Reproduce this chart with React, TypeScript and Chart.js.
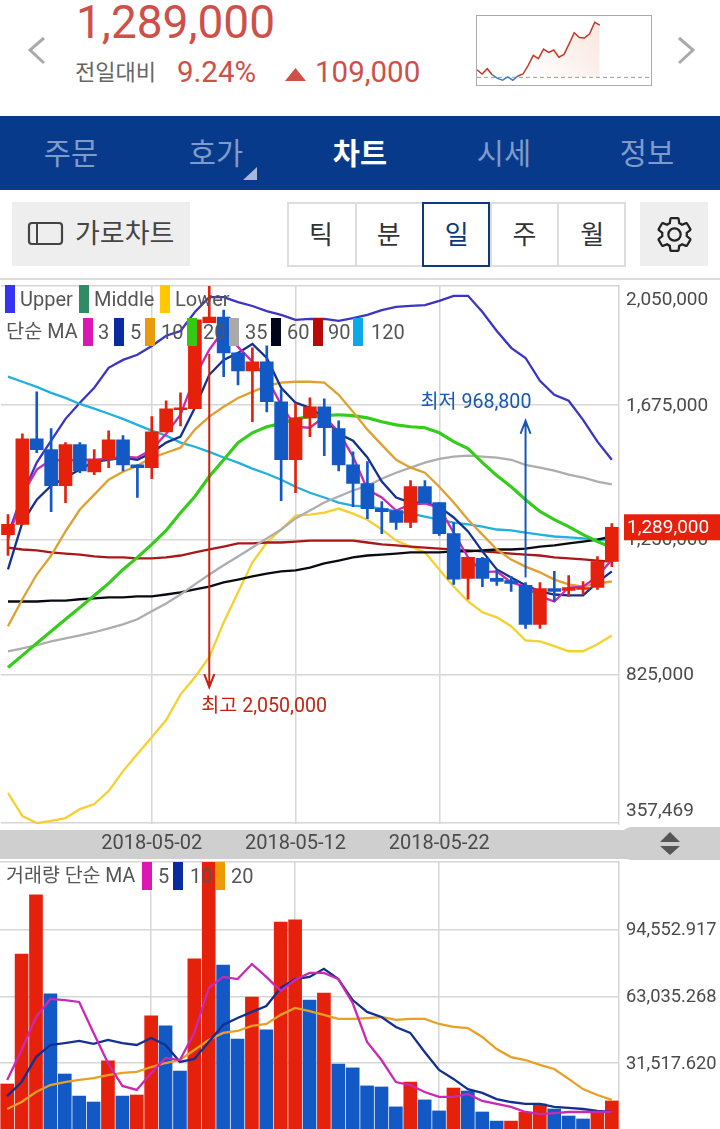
import { useEffect, useRef } from 'react';
import { Chart, registerables } from 'chart.js';

Chart.register(...registerables);

const RED = '#e5200b';
const BLUE = '#1359c6';
const GRID = '#d6d6d6';
const TEXT = '#4a4a4a';
const FONT = "Roboto, 'Noto Sans CJK KR', sans-serif";

const dates = [
  '2018-04-22', '2018-04-23', '2018-04-24', '2018-04-25', '2018-04-26', '2018-04-27', '2018-04-28', '2018-04-29',
  '2018-04-30', '2018-05-01', '2018-05-02', '2018-05-03', '2018-05-04', '2018-05-05', '2018-05-06', '2018-05-07',
  '2018-05-08', '2018-05-09', '2018-05-10', '2018-05-11', '2018-05-12', '2018-05-13', '2018-05-14', '2018-05-15',
  '2018-05-16', '2018-05-17', '2018-05-18', '2018-05-19', '2018-05-20', '2018-05-21', '2018-05-22', '2018-05-23',
  '2018-05-24', '2018-05-25', '2018-05-26', '2018-05-27', '2018-05-28', '2018-05-29', '2018-05-30', '2018-05-31',
  '2018-06-01', '2018-06-02', '2018-06-03',
];
const labelledDates = ['2018-05-02', '2018-05-12', '2018-05-22'];

// prices in thousand won
const opens = [1266, 1298, 1568, 1534, 1420, 1550, 1464, 1502, 1565, 1486, 1477, 1590, 1660, 1663, 1934, 1952, 1839, 1782, 1811, 1685, 1502, 1634, 1669, 1600, 1486, 1427, 1348, 1342, 1304, 1417, 1367, 1269, 1128, 1191, 1128, 1121, 1106, 983, 1096, 1090, 1093, 1099, 1181];
const closes = [1298, 1568, 1534, 1420, 1550, 1467, 1502, 1565, 1486, 1477, 1590, 1663, 1666, 1943, 1952, 1839, 1782, 1811, 1685, 1502, 1634, 1669, 1603, 1486, 1427, 1348, 1338, 1304, 1417, 1367, 1269, 1125, 1194, 1128, 1118, 1112, 983, 1096, 1087, 1099, 1099, 1181, 1289];
const highs = [1329, 1584, 1716, 1600, 1556, 1556, 1534, 1593, 1578, 1486, 1638, 1688, 1713, 1943, 2050, 1974, 1839, 1855, 1861, 1723, 1679, 1697, 1694, 1625, 1527, 1496, 1370, 1342, 1436, 1436, 1367, 1304, 1194, 1194, 1153, 1134, 1115, 1115, 1150, 1137, 1118, 1197, 1301];
const lows = [1200, 1298, 1524, 1338, 1367, 1461, 1455, 1477, 1467, 1383, 1442, 1590, 1609, 1663, 1934, 1764, 1738, 1622, 1653, 1373, 1398, 1575, 1515, 1467, 1354, 1316, 1269, 1282, 1288, 1367, 1263, 1109, 1062, 1102, 1106, 1087, 970, 970, 1055, 1071, 1077, 1093, 1165];

const upper = [1266, 1392, 1493, 1562, 1631, 1682, 1729, 1792, 1817, 1833, 1861, 1893, 1908, 1968, 2015, 2015, 1999, 1987, 1971, 1959, 1943, 1946, 1946, 1940, 1949, 1959, 1974, 1984, 1987, 1990, 2003, 2019, 2019, 1968, 1908, 1855, 1823, 1751, 1707, 1688, 1628, 1559, 1502];
const lower = [451, 378, 356, 363, 372, 400, 416, 457, 520, 574, 627, 681, 762, 816, 879, 989, 1084, 1178, 1241, 1282, 1326, 1329, 1335, 1348, 1332, 1313, 1282, 1247, 1228, 1210, 1156, 1102, 1055, 1021, 1005, 977, 932, 929, 914, 898, 898, 920, 948];
const ma3 = [1250, 1392, 1471, 1502, 1499, 1502, 1502, 1505, 1512, 1509, 1534, 1584, 1644, 1764, 1849, 1911, 1858, 1811, 1760, 1675, 1606, 1603, 1638, 1590, 1512, 1408, 1383, 1342, 1361, 1364, 1351, 1272, 1194, 1147, 1150, 1115, 1102, 1071, 1055, 1099, 1102, 1134, 1187];
const ma5 = [1156, 1304, 1376, 1420, 1446, 1471, 1496, 1502, 1509, 1502, 1524, 1556, 1575, 1666, 1770, 1817, 1839, 1867, 1823, 1729, 1682, 1666, 1634, 1584, 1562, 1509, 1433, 1383, 1367, 1367, 1354, 1320, 1276, 1213, 1156, 1131, 1106, 1087, 1077, 1074, 1074, 1115, 1150];
const ma10 = [977, 1062, 1140, 1200, 1276, 1345, 1392, 1439, 1464, 1483, 1509, 1524, 1540, 1597, 1638, 1669, 1697, 1716, 1735, 1745, 1748, 1748, 1745, 1707, 1653, 1597, 1549, 1502, 1477, 1461, 1417, 1367, 1313, 1266, 1219, 1187, 1165, 1147, 1124, 1109, 1102, 1112, 1118];
const ma20 = [847, 885, 923, 961, 999, 1036, 1074, 1112, 1156, 1194, 1235, 1279, 1335, 1386, 1449, 1502, 1556, 1587, 1606, 1616, 1631, 1638, 1641, 1644, 1641, 1634, 1622, 1612, 1606, 1603, 1587, 1559, 1537, 1493, 1452, 1417, 1376, 1339, 1313, 1291, 1266, 1244, 1225];
const ma35 = [898, 907, 917, 929, 939, 948, 958, 970, 983, 999, 1024, 1049, 1077, 1109, 1140, 1169, 1197, 1225, 1254, 1282, 1317, 1342, 1367, 1386, 1405, 1420, 1442, 1461, 1477, 1493, 1505, 1512, 1515, 1512, 1509, 1502, 1486, 1477, 1468, 1455, 1446, 1433, 1424];
const ma60 = [1055, 1055, 1055, 1058, 1058, 1062, 1065, 1068, 1068, 1071, 1071, 1077, 1084, 1093, 1102, 1115, 1124, 1134, 1143, 1150, 1153, 1162, 1175, 1184, 1194, 1200, 1203, 1206, 1210, 1210, 1210, 1213, 1213, 1216, 1219, 1219, 1222, 1228, 1232, 1238, 1244, 1250, 1260];
const ma90 = [1225, 1219, 1216, 1210, 1206, 1203, 1197, 1194, 1194, 1191, 1191, 1194, 1200, 1210, 1219, 1228, 1238, 1238, 1241, 1241, 1244, 1247, 1247, 1247, 1247, 1241, 1235, 1232, 1228, 1225, 1222, 1219, 1216, 1213, 1210, 1206, 1203, 1200, 1194, 1191, 1188, 1184, 1181];
const ma120 = [1764, 1748, 1732, 1713, 1697, 1678, 1663, 1647, 1631, 1612, 1594, 1578, 1556, 1543, 1527, 1509, 1493, 1474, 1458, 1439, 1417, 1398, 1383, 1367, 1357, 1354, 1348, 1339, 1332, 1323, 1313, 1304, 1298, 1291, 1282, 1279, 1272, 1266, 1260, 1257, 1254, 1250, 1247];

const volumes = [21700, 83000, 110900, 64200, 26400, 16000, 13200, 32600, 16000, 16500, 53800, 49100, 27800, 80700, 127000, 77800, 42900, 62700, 47200, 98100, 99100, 61300, 64600, 31100, 29300, 20800, 20300, 10900, 22600, 14200, 9000, 19800, 18400, 8500, 4200, 4200, 8500, 12300, 9900, 6600, 5200, 8500, 13700];
const volumeUp = [1, 1, 1, 0, 0, 0, 0, 1, 0, 1, 1, 0, 0, 1, 1, 0, 0, 1, 0, 1, 1, 0, 1, 0, 0, 0, 0, 0, 1, 0, 0, 1, 0, 0, 0, 1, 1, 1, 0, 0, 0, 1, 1];
const volMa5 = [23600, 37700, 53300, 61800, 61300, 60400, 45800, 31600, 20800, 18900, 26900, 34000, 33000, 45800, 67000, 72200, 71200, 78300, 72200, 65600, 70800, 74100, 74100, 71200, 59900, 41500, 33000, 22600, 21200, 17900, 15600, 15600, 17000, 13700, 12300, 10900, 8500, 7500, 8000, 8500, 8500, 8500, 8500];
const volMa10 = [16000, 22600, 34400, 40100, 41000, 42000, 40600, 42500, 41000, 40100, 43400, 40100, 32100, 33500, 41500, 49500, 52800, 55700, 58500, 67000, 71200, 72200, 76000, 71200, 61300, 55700, 53300, 48600, 45800, 36800, 28300, 24100, 19300, 17500, 14600, 13200, 12300, 12300, 10900, 10400, 9900, 9000, 8500];
const volMa20 = [9900, 13200, 17900, 21200, 22600, 23600, 24500, 25900, 26900, 27400, 29700, 31600, 33000, 37700, 42500, 45800, 46700, 49100, 50000, 54300, 57600, 56100, 54300, 52400, 52400, 52800, 53300, 51900, 52400, 52400, 50000, 48600, 48100, 43900, 38200, 34400, 33000, 30700, 28800, 24100, 19300, 16500, 14200];

const priceTicks = [357469, 825000, 1250000, 1675000, 2050000];
const volumeTicks = [31517.62, 63035.268, 94552.917];
const lastPrice = 1289000;

const sparkValues = [1196, 1187, 1198, 1185, 1178, 1174, 1181, 1174, 1183, 1187, 1205, 1226, 1219, 1239, 1232, 1237, 1222, 1228, 1250, 1273, 1263, 1262, 1271, 1295, 1289];
const sparkBase = 1180;

const priceLegend = [
  { name: '3', color: '#dc18b4', swatch: 83, text: 98 },
  { name: '5', color: '#0a2ba0', swatch: 114, text: 130 },
  { name: '10', color: '#e89b0c', swatch: 145, text: 161 },
  { name: '20', color: '#33c811', swatch: 187, text: 203 },
  { name: '35', color: '#aaaaaa', swatch: 229, text: 245 },
  { name: '60', color: '#000618', swatch: 271, text: 287 },
  { name: '90', color: '#b80808', swatch: 313, text: 328 },
  { name: '120', color: '#0ca8ea', swatch: 353, text: 371 },
];
const bandLegend = [
  { name: 'Upper', color: '#3535f0', swatch: 5, text: 20 },
  { name: 'Middle', color: '#2e8b63', swatch: 79, text: 94 },
  { name: 'Lower', color: '#ffc800', swatch: 160, text: 175 },
];
const volumeLegend = [
  { name: '5', color: '#dc18b4', swatch: 142, text: 158 },
  { name: '10', color: '#0a2ba0', swatch: 173, text: 190 },
  { name: '20', color: '#ee9a05', swatch: 215, text: 231 },
];

const arrows = [
  { index: 14, from: 1836000, to: 785000, color: '#c5230f', text: '최고 2,050,000', dx: -8, dy: 20 },
  { index: 36, from: 1131000, to: 1625000, color: '#1558b0', text: '최저 968,800', dx: -105, dy: -18 },
];

const won = (list: number[]) => list.map((v) => v * 1000);

function line(label: string, data: number[], color: string, order: number, width = 2.3) {
  return {
    type: 'line' as const,
    label,
    data,
    borderColor: color,
    borderWidth: width,
    pointRadius: 0,
    tension: 0,
    order,
  };
}

// labels are drawn by hand so the top and bottom ones can sit inside the plot
const axisLabels = {
  id: 'axisLabels',
  afterDraw(chart: any) {
    const { ctx, chartArea, scales } = chart;
    ctx.save();
    ctx.fillStyle = TEXT;
    ctx.font = `${scales.y.options.ticks.font.size}px ${FONT}`;
    ctx.textBaseline = 'middle';
    ctx.textAlign = 'left';
    scales.y.ticks.forEach((tick: any) => {
      if (!tick.label) return;
      const px = scales.y.getPixelForValue(tick.value);
      const y = Math.min(Math.max(px, chartArea.top + 13), chartArea.bottom - 14);
      ctx.fillText(tick.label, chartArea.right + 7, y + 1);
    });
    ctx.restore();
  },
};

const priceMarks = {
  id: 'priceMarks',
  afterDraw(chart: any) {
    const { ctx, scales } = chart;
    ctx.save();
    arrows.forEach((a) => {
      const x = scales.x.getPixelForValue(a.index);
      const y0 = scales.y.getPixelForValue(a.from);
      const y1 = scales.y.getPixelForValue(a.to);
      const dir = y1 > y0 ? -1 : 1;
      ctx.strokeStyle = a.color;
      ctx.lineWidth = 2;
      ctx.beginPath();
      ctx.moveTo(x, y0);
      ctx.lineTo(x, y1);
      ctx.moveTo(x - 5, y1 + dir * 13);
      ctx.lineTo(x, y1);
      ctx.lineTo(x + 5, y1 + dir * 13);
      ctx.stroke();
      ctx.fillStyle = a.color;
      ctx.font = `19.6px ${FONT}`;
      ctx.textAlign = 'left';
      ctx.textBaseline = 'middle';
      ctx.fillText(a.text, x + a.dx, y1 + a.dy);
    });
    const y = scales.y.getPixelForValue(lastPrice);
    ctx.fillStyle = RED;
    ctx.fillRect(624, y - 13, 96, 26);
    ctx.fillStyle = '#fff';
    ctx.font = `19px ${FONT}`;
    ctx.textAlign = 'left';
    ctx.textBaseline = 'middle';
    ctx.fillText(lastPrice.toLocaleString('en-US'), 627, y + 1);
    ctx.restore();
  },
};

function PriceChart() {
  const canvasRef = useRef<HTMLCanvasElement>(null);

  useEffect(() => {
    if (!canvasRef.current) return;
    const colors = opens.map((o, i) => (closes[i] >= o ? RED : BLUE));
    const chart = new Chart(canvasRef.current, {
      type: 'bar',
      data: {
        labels: dates,
        datasets: [
          {
            label: 'body',
            data: opens.map((o, i) => [o * 1000, closes[i] * 1000]),
            backgroundColor: colors,
            barThickness: 13,
            grouped: false,
            order: 0,
          },
          {
            label: 'wick',
            data: lows.map((l, i) => [l * 1000, highs[i] * 1000]),
            backgroundColor: colors,
            barThickness: 2,
            grouped: false,
            order: 1,
          },
          line('MA3', won(ma3), '#c929b4', 2),
          line('MA5', won(ma5), '#14308f', 3),
          line('MA10', won(ma10), '#e0a030', 4),
          line('MA20', won(ma20), '#35cc1c', 5, 3.2),
          line('MA35', won(ma35), '#adadad', 6),
          line('MA60', won(ma60), '#0a0a14', 7),
          line('MA90', won(ma90), '#a81818', 8),
          line('MA120', won(ma120), '#22b0dd', 9),
          line('Upper', won(upper), '#3a35c4', 10),
          line('Lower', won(lower), '#f5d030', 11),
        ] as any,
      },
      options: {
        responsive: false,
        animation: false,
        events: [],
        layout: { padding: { top: 6, right: 101, bottom: 5, left: 0 } },
        plugins: { legend: { display: false }, tooltip: { enabled: false } },
        scales: {
          x: {
            offset: true,
            border: { display: false },
            grid: {
              offset: false,
              drawTicks: false,
              lineWidth: 1.5,
              color: (ctx: any) => (labelledDates.includes(dates[ctx.index]) ? GRID : 'transparent'),
            },
            ticks: {
              autoSkip: false,
              minRotation: 0,
              maxRotation: 0,
              padding: 8,
              color: TEXT,
              font: { family: FONT, size: 20 },
              callback: (_v: any, i: number) => (labelledDates.includes(dates[i]) ? dates[i] : ''),
            },
          },
          y: {
            position: 'right',
            min: 353200,
            max: 2050000,
            border: { color: GRID, width: 1.5 },
            grid: { drawTicks: false, color: GRID, lineWidth: 1.5 },
            ticks: { display: false, font: { size: 19 }, callback: (v: any) => Number(v).toLocaleString('en-US') },
            afterBuildTicks: (scale: any) => {
              scale.ticks = priceTicks.map((value) => ({ value }));
            },
          },
        },
      } as any,
      plugins: [axisLabels, priceMarks],
    });
    return () => chart.destroy();
  }, []);

  return <canvas ref={canvasRef} width={720} height={589} style={{ position: 'absolute', left: 0, top: 280 }} />;
}

function VolumeChart() {
  const canvasRef = useRef<HTMLCanvasElement>(null);

  useEffect(() => {
    if (!canvasRef.current) return;
    const chart = new Chart(canvasRef.current, {
      type: 'bar',
      data: {
        labels: dates,
        datasets: [
          {
            label: 'volume',
            data: volumes,
            backgroundColor: volumeUp.map((up) => (up ? RED : BLUE)),
            barThickness: 13,
            order: 5,
          },
          line('5', volMa5, '#c929b4', 1),
          line('10', volMa10, '#14308f', 2),
          line('20', volMa20, '#e8a024', 3),
        ] as any,
      },
      options: {
        responsive: false,
        animation: false,
        events: [],
        layout: { padding: { top: 2, right: 101, bottom: 0, left: 0 } },
        plugins: { legend: { display: false }, tooltip: { enabled: false } },
        scales: {
          x: {
            offset: true,
            border: { display: false },
            grid: {
              offset: false,
              drawTicks: false,
              lineWidth: 1.5,
              color: (ctx: any) => (labelledDates.includes(dates[ctx.index]) ? GRID : 'transparent'),
            },
            ticks: { display: false, autoSkip: false },
          },
          y: {
            position: 'right',
            min: 472,
            max: 126400,
            border: { color: GRID, width: 1.5 },
            grid: { drawTicks: false, color: GRID, lineWidth: 1.5 },
            ticks: {
              display: false,
              font: { size: 18.3 },
              callback: (v: any) =>
                volumeTicks.includes(v)
                  ? Number(v).toLocaleString('en-US', { minimumFractionDigits: 3, maximumFractionDigits: 3 })
                  : '',
            },
            afterBuildTicks: (scale: any) => {
              scale.ticks = [...volumeTicks, 126400].map((value) => ({ value }));
            },
          },
        },
      } as any,
      plugins: [axisLabels],
    });
    return () => chart.destroy();
  }, []);

  return <canvas ref={canvasRef} width={720} height={269} style={{ position: 'absolute', left: 0, top: 860 }} />;
}

function SparkChart() {
  const canvasRef = useRef<HTMLCanvasElement>(null);

  useEffect(() => {
    if (!canvasRef.current) return;
    const ctx = canvasRef.current.getContext('2d')!;
    const fade = ctx.createLinearGradient(121, 0, 50, 55);
    fade.addColorStop(0, 'rgba(240,190,170,0.4)');
    fade.addColorStop(1, 'rgba(240,190,170,0)');
    const slots = Array.from({ length: 35 }, (_, i) => i);
    const chart = new Chart(canvasRef.current, {
      type: 'line',
      data: {
        labels: slots,
        datasets: [
          {
            data: sparkValues,
            borderWidth: 1.5,
            borderColor: '#c0392b',
            pointRadius: 0,
            fill: { target: { value: sparkBase }, above: fade, below: 'transparent' },
            segment: {
              borderColor: (c: any) => (c.p0.parsed.y < sparkBase || c.p1.parsed.y < sparkBase ? '#3a7fc8' : '#c0392b'),
            },
          },
          {
            data: slots.map(() => sparkBase),
            borderWidth: 1,
            borderColor: '#999',
            borderDash: [4, 3],
            pointRadius: 0,
          },
        ],
      },
      options: {
        responsive: false,
        animation: false,
        events: [],
        plugins: { legend: { display: false }, tooltip: { enabled: false } },
        scales: {
          x: { display: false },
          y: { display: false, min: 1162, max: 1308 },
        },
      } as any,
    });
    return () => chart.destroy();
  }, []);

  return <canvas ref={canvasRef} width={174} height={70} style={{ position: 'absolute', left: 477, top: 16 }} />;
}

function Label({ x, y, size, color = TEXT, weight = 400, center = false, children }: any) {
  return (
    <div
      style={{
        position: 'absolute',
        left: x,
        top: y,
        transform: center ? 'translate(-50%, -50%)' : 'translateY(-50%)',
        fontFamily: FONT,
        fontSize: size,
        fontWeight: weight,
        color,
        lineHeight: 1,
        whiteSpace: 'nowrap',
      }}
    >
      {children}
    </div>
  );
}

function Box({ x, y, w, h, style }: any) {
  return <div style={{ position: 'absolute', left: x, top: y, width: w, height: h, ...style }} />;
}

function Legend({ items, y, top, height }: any) {
  return items.map((item: any) => (
    <div key={item.name}>
      <Box x={item.swatch} y={top} w={10} h={height} style={{ background: item.color }} />
      <Label x={item.text} y={y} size={20} color="#555">
        {item.name}
      </Label>
    </div>
  ));
}

const tabs = [
  { name: '주문', x: 71 },
  { name: '호가', x: 216 },
  { name: '차트', x: 360, on: true },
  { name: '시세', x: 504 },
  { name: '정보', x: 647 },
];
const periods = ['틱', '분', '일', '주', '월'];

export default function App() {
  return (
    <div style={{ position: 'absolute', left: 0, top: 0, width: 720, height: 1129, overflow: 'hidden', background: '#fff' }}>
      <Label x={76} y={22} size={46} color="#cd5049">1,289,000</Label>
      <Label x={75} y={73} size={22} color="#666">전일대비</Label>
      <Label x={177} y={73} size={29.5} color="#cd5049">9.24%</Label>
      <Label x={315} y={73} size={29.5} color="#cd5049">109,000</Label>
      <svg style={{ position: 'absolute', left: 0, top: 0 }} width={720} height={190}>
        <polygon points="295.5,68 306,81 285,81" fill="#cd5049" />
        <polyline points="44,38 30,50 44,63" fill="none" stroke="#aaa" strokeWidth={3} />
        <polyline points="679,38 693,50 679,63" fill="none" stroke="#aaa" strokeWidth={3} />
      </svg>
      <Box x={476} y={15} w={176} h={71} style={{ border: '1px solid #aaa', boxSizing: 'border-box' }} />
      <SparkChart />

      <Box x={0} y={116} w={720} h={74} style={{ background: '#083a8c' }} />
      {tabs.map((t) => (
        <Label key={t.name} x={t.x} y={155} size={29.5} center color={t.on ? '#fff' : '#7f9bc9'} weight={t.on ? 700 : 400}>
          {t.name}
        </Label>
      ))}
      <svg style={{ position: 'absolute', left: 243, top: 167 }} width={14} height={13}>
        <polygon points="14,0 14,13 0,13" fill="#a8b8d8" />
      </svg>

      <Box x={12} y={202} w={178} h={64} style={{ background: '#eeeeee' }} />
      <svg style={{ position: 'absolute', left: 27, top: 221 }} width={38} height={25}>
        <rect x={2} y={2} width={33} height={21} rx={3} fill="none" stroke="#444" strokeWidth={2.2} />
        <line x1={10} y1={2} x2={10} y2={23} stroke="#444" strokeWidth={2} />
      </svg>
      <Label x={75} y={234} size={27} color="#444">가로차트</Label>

      <Box x={287} y={202} w={339} h={65} style={{ border: '2px solid #ddd', boxSizing: 'border-box' }} />
      {periods.map((p, i) => (
        <div key={p}>
          {i > 0 && <Box x={287 + 67.6 * i} y={203} w={2} h={63} style={{ background: '#ddd' }} />}
          <Label x={321 + 67.8 * i} y={235} size={26} center color={i === 2 ? '#0c3a7c' : '#333'}>
            {p}
          </Label>
        </div>
      ))}
      <Box x={422} y={202} w={68} h={65} style={{ border: '2px solid #0c3a7c', boxSizing: 'border-box' }} />

      <Box x={640} y={202} w={68} h={64} style={{ background: '#eeeeee' }} />
      <svg style={{ position: 'absolute', left: 654, top: 214 }} width={41} height={41} viewBox="0 0 24 24">
        <path
          d="M19.14 12.94c.04-.3.06-.61.06-.94 0-.32-.02-.64-.07-.94l2.03-1.58c.18-.14.23-.41.12-.61l-1.92-3.32c-.12-.22-.37-.29-.59-.22l-2.39.96c-.5-.38-1.03-.7-1.62-.94l-.36-2.54c-.04-.24-.24-.41-.48-.41h-3.84c-.24 0-.43.17-.47.41l-.36 2.54c-.59.24-1.13.57-1.62.94l-2.39-.96c-.22-.08-.47 0-.59.22L2.74 8.87c-.12.21-.08.47.12.61l2.03 1.58c-.05.3-.09.63-.09.94s.02.64.07.94l-2.03 1.58c-.18.14-.23.41-.12.61l1.92 3.32c.12.22.37.29.59.22l2.39-.96c.5.38 1.03.7 1.62.94l.36 2.54c.05.24.24.41.48.41h3.84c.24 0 .44-.17.47-.41l.36-2.54c.59-.24 1.13-.56 1.62-.94l2.39.96c.22.08.47 0 .59-.22l1.92-3.32c.12-.22.07-.47-.12-.61l-2.01-1.58zM12 15.6c-1.98 0-3.6-1.62-3.6-3.6s1.62-3.6 3.6-3.6 3.6 1.62 3.6 3.6-1.62 3.6-3.6 3.6z"
          fill="none"
          stroke="#222"
          strokeWidth={1.3}
        />
      </svg>

      <Box x={0} y={278} w={720} h={2} style={{ background: '#dddddd' }} />

      <Box x={0} y={830} w={640} h={29} style={{ background: '#cfcfcf' }} />
      <Box x={620} y={827} w={100} h={33} style={{ background: '#cfcfcf', borderRadius: '12px 0 0 12px' }} />
      <svg style={{ position: 'absolute', left: 655, top: 828 }} width={30} height={30}>
        <polygon points="15,4 25,14 5,14" fill="#555" />
        <polygon points="5,18 25,18 15,27" fill="#555" />
      </svg>

      <PriceChart />
      <VolumeChart />

      <Legend items={bandLegend} y={299} top={285} height={28} />
      <Label x={6} y={332} size={19.8} color="#555">단순 MA</Label>
      <Legend items={priceLegend} y={332} top={318} height={28} />
      <Label x={6} y={876} size={19.5} color="#555">거래량 단순 MA</Label>
      <Legend items={volumeLegend} y={876} top={862} height={28} />
    </div>
  );
}
